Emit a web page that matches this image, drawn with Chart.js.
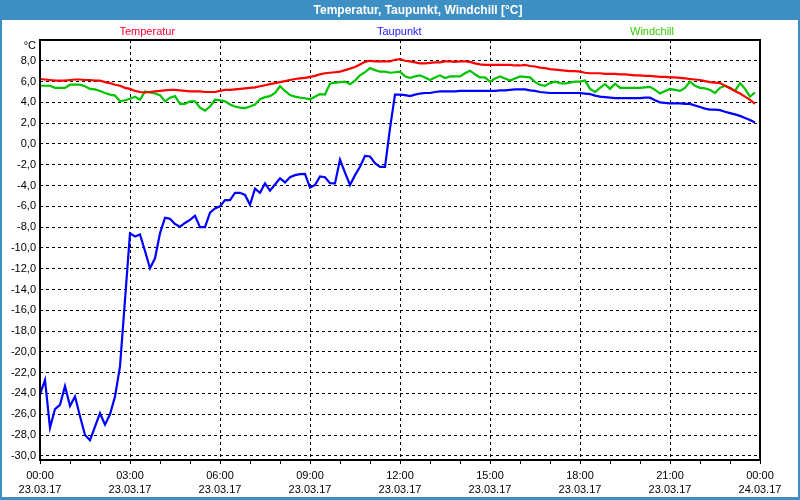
<!DOCTYPE html>
<html>
<head>
<meta charset="utf-8">
<script src="https://cdn.jsdelivr.net/npm/chart.js@4.4.0/dist/chart.umd.min.js"></script>
<style>
  html, body { margin: 0; padding: 0; background: #fff; }
  canvas { display: block; }
</style>
</head>
<body>
<canvas id="c" width="800" height="500"></canvas>
<script>
// ---- data (10-minute samples starting 23.03.17 00:00) ----
const SAMPLE_MINUTES = 10;
const temperatur = [
  6.25, 6.2, 6.15, 6.1, 6.1, 6.1, 6.15, 6.2, 6.2, 6.15, 6.15, 6.1, 6.1, 5.95, 5.85, 5.7, 5.6, 5.4, 5.3, 5.1,
  5.0, 4.95, 5.0, 5.05, 5.1, 5.15, 5.2, 5.2, 5.15, 5.1, 5.05, 5.05, 5.05, 5.0, 5.0, 5.0, 5.1, 5.2, 5.2, 5.25,
  5.3, 5.35, 5.4, 5.45, 5.55, 5.65, 5.75, 5.85, 5.95, 6.05, 6.15, 6.25, 6.3, 6.35, 6.45, 6.55, 6.7, 6.8, 6.85, 6.9,
  6.95, 7.1, 7.25, 7.4, 7.65, 7.9, 8.0, 7.95, 7.95, 7.95, 7.95, 8.1, 8.15, 8.0, 7.95, 7.85, 7.75, 7.75, 7.8, 7.85,
  7.85, 7.95, 7.95, 7.9, 7.95, 7.95, 7.9, 7.75, 7.65, 7.6, 7.6, 7.6, 7.6, 7.6, 7.6, 7.55, 7.55, 7.6, 7.5, 7.45,
  7.35, 7.3, 7.2, 7.15, 7.1, 7.05, 7.0, 7.0, 6.95, 6.85, 6.8, 6.8, 6.8, 6.75, 6.75, 6.75, 6.7, 6.7, 6.65, 6.6,
  6.6, 6.55, 6.55, 6.5, 6.45, 6.45, 6.4, 6.4, 6.35, 6.3, 6.25, 6.2, 6.15, 6.05, 5.95, 5.9, 5.85, 5.6, 5.35, 5.1,
  4.85, 4.55, 4.25, 3.85
];
const taupunkt = [
  -24.1, -22.7, -27.3, -25.5, -25.1, -23.3, -25.2, -24.3, -26.2, -28.0, -28.5, -27.2, -25.9, -27.0, -26.0, -24.3, -21.4, -15.0, -8.6, -8.9,
  -8.7, -10.3, -11.95, -11.0, -8.6, -7.1, -7.2, -7.7, -7.95, -7.6, -7.3, -6.9, -8.0, -8.0, -6.6, -6.2, -6.0, -5.4, -5.4, -4.7,
  -4.7, -4.9, -5.85, -4.3, -4.7, -3.8, -4.5, -3.9, -3.3, -3.7, -3.2, -3.0, -2.9, -2.87, -4.2, -3.95, -3.13, -3.2, -3.77, -3.8,
  -1.5, -2.75, -3.95, -3.0, -2.2, -1.15, -1.2, -1.85, -2.2, -2.2, 1.5, 4.75, 4.75, 4.7, 4.6, 4.75, 4.85, 4.9, 4.9, 5.0,
  5.05, 5.05, 5.05, 5.05, 5.1, 5.1, 5.1, 5.1, 5.1, 5.1, 5.1, 5.1, 5.15, 5.15, 5.2, 5.25, 5.25, 5.25, 5.15, 5.1,
  5.0, 4.95, 4.9, 4.9, 4.9, 4.9, 4.9, 4.9, 4.9, 4.85, 4.8, 4.65, 4.55, 4.5, 4.45, 4.4, 4.4, 4.4, 4.4, 4.4,
  4.4, 4.45, 4.45, 4.2, 4.0, 3.95, 3.9, 3.9, 3.9, 3.85, 3.85, 3.7, 3.55, 3.4, 3.3, 3.3, 3.25, 3.1, 2.97, 2.85,
  2.7, 2.5, 2.3, 2.07
];
const windchill = [
  5.6, 5.6, 5.6, 5.4, 5.4, 5.4, 5.7, 5.7, 5.7, 5.55, 5.3, 5.25, 5.1, 4.9, 4.75, 4.65, 4.1, 4.2, 4.35, 4.55,
  4.25, 5.05, 4.95, 4.85, 4.7, 4.1, 4.45, 4.6, 3.85, 3.85, 4.1, 4.1, 3.5, 3.2, 3.6, 4.25, 4.2, 4.1, 3.8, 3.6,
  3.5, 3.45, 3.6, 3.8, 4.3, 4.5, 4.6, 4.9, 5.55, 5.1, 4.7, 4.55, 4.45, 4.4, 4.3, 4.55, 4.8, 4.75, 5.8, 5.9,
  5.95, 6.0, 5.75, 6.1, 6.6, 6.9, 7.3, 7.1, 6.95, 6.95, 6.85, 6.9, 6.95, 6.5, 6.35, 6.5, 6.6, 6.4, 6.15, 6.4,
  6.6, 6.35, 6.5, 6.5, 6.5, 6.8, 7.05, 6.7, 6.4, 6.4, 6.0, 6.3, 6.5, 6.3, 6.1, 6.3, 6.5, 6.45, 6.4, 5.95,
  5.7, 5.6, 5.85, 6.0, 5.85, 5.8, 5.9, 6.0, 6.0, 6.1, 5.3, 5.0, 5.4, 5.75, 5.3, 5.8, 5.4, 5.4, 5.4, 5.4,
  5.4, 5.45, 5.5, 5.2, 4.85, 5.1, 5.3, 5.2, 5.1, 5.4, 6.0, 5.6, 5.4, 5.35, 5.2, 4.9, 5.4, 5.6, 5.4, 5.1,
  5.85, 5.3, 4.55, 4.95
];
const yTicks = [-30, -28, -26, -24, -22, -20, -18, -16, -14, -12, -10, -8, -6, -4, -2, 0, 2, 4, 6, 8];
const timeLabels = ['00:00', '03:00', '06:00', '09:00', '12:00', '15:00', '18:00', '21:00', '00:00'];
const dateLabels = ['23.03.17', '23.03.17', '23.03.17', '23.03.17', '23.03.17', '23.03.17', '23.03.17', '23.03.17', '24.03.17'];
const seriesNames = ['Temperatur', 'Taupunkt', 'Windchill'];
const titleText = 'Temperatur, Taupunkt, Windchill [°C]';

const toXY = arr => arr.map((v, i) => ({ x: i * SAMPLE_MINUTES, y: v }));
const FONT = '"Liberation Sans", Arial, sans-serif';

const decor = {
  id: 'decor',
  beforeDraw(chart) {
    const ctx = chart.ctx;
    ctx.save();
    ctx.fillStyle = '#ffffff';
    ctx.fillRect(0, 0, 800, 500);
    ctx.fillStyle = '#3d8fc4';
    ctx.fillRect(0, 0, 800, 20);
    ctx.fillStyle = '#ffffff';
    ctx.font = 'bold 12px ' + FONT;
    ctx.textAlign = 'center';
    ctx.textBaseline = 'middle';
    ctx.fillText(titleText, 418, 10.5);
    ctx.restore();
  },
  afterDraw(chart) {
    const ctx = chart.ctx;
    const a = chart.chartArea;
    ctx.save();
    // plot frame
    ctx.strokeStyle = '#000';
    ctx.lineWidth = 2;
    ctx.strokeRect(a.left, a.top, a.right - a.left, a.bottom - a.top);
    // series names
    ctx.font = '11px ' + FONT;
    ctx.textBaseline = 'middle';
    ctx.textAlign = 'center';
    const cols = ['#ff0033', '#1a1aff', '#33cc00'];
    const pos = [0.149, 0.499, 0.85];
    seriesNames.forEach((n, i) => {
      ctx.fillStyle = cols[i];
      ctx.fillText(n, a.left + pos[i] * (a.right - a.left), 32);
    });
    // unit
    ctx.fillStyle = '#000';
    ctx.textAlign = 'right';
    ctx.fillText('°C', 36, 46);
    // window border
    ctx.fillStyle = '#3d8fc4';
    ctx.fillRect(0, 0, 2, 500);
    ctx.fillRect(798, 0, 2, 500);
    ctx.fillRect(0, 497, 800, 3);
    ctx.restore();
  }
};

new Chart(document.getElementById('c'), {
  type: 'line',
  data: {
    datasets: [
      { label: seriesNames[0], data: toXY(temperatur), borderColor: '#ff0000', borderWidth: 2.2, pointRadius: 0, tension: 0 },
      { label: seriesNames[2], data: toXY(windchill), borderColor: '#00c400', borderWidth: 2.2, pointRadius: 0, tension: 0 },
      { label: seriesNames[1], data: toXY(taupunkt), borderColor: '#0000ff', borderWidth: 2.2, pointRadius: 0, tension: 0 }
    ]
  },
  options: {
    responsive: false,
    animation: false,
    devicePixelRatio: 1,
    layout: { padding: { top: 40, right: 40, left: 0, bottom: 0 } },
    plugins: { legend: { display: false }, title: { display: false }, tooltip: { enabled: false } },
    scales: {
      x: {
        type: 'linear',
        min: 0,
        max: 1440,
        afterBuildTicks(s) {
          const t = [];
          for (let m = 0; m <= 1440; m += 60) t.push({ value: m });
          s.ticks = t;
        },
        afterFit(s) { s.height = 40; },
        grid: {
          color: c => (c.tick && c.tick.value % 180 === 0 && c.tick.value > 0 && c.tick.value < 1440) ? '#000' : 'rgba(0,0,0,0)',
          tickColor: '#000',
          tickLength: 4,
          lineWidth: 1,
          drawTicks: true
        },
        border: { display: false, dash: [3, 3] },
        ticks: {
          autoSkip: false,
          maxRotation: 0,
          minRotation: 0,
          padding: 5,
          color: '#000',
          font: { family: FONT, size: 11, lineHeight: 1.27 },
          callback(v) {
            if (v % 180 !== 0) return '';
            const k = v / 180;
            return [timeLabels[k], dateLabels[k]];
          }
        }
      },
      y: {
        type: 'linear',
        min: -30.4,
        max: 10,
        afterBuildTicks(s) { s.ticks = yTicks.map(v => ({ value: v })); },
        afterFit(s) { s.width = 40; },
        grid: { color: '#000', lineWidth: 1, drawTicks: false },
        border: { display: false, dash: [3, 3] },
        ticks: {
          padding: 4,
          color: '#000',
          font: { family: FONT, size: 11 },
          callback: v => v.toFixed(1).replace('.', ',')
        }
      }
    }
  },
  plugins: [decor]
});
</script>
</body>
</html>
